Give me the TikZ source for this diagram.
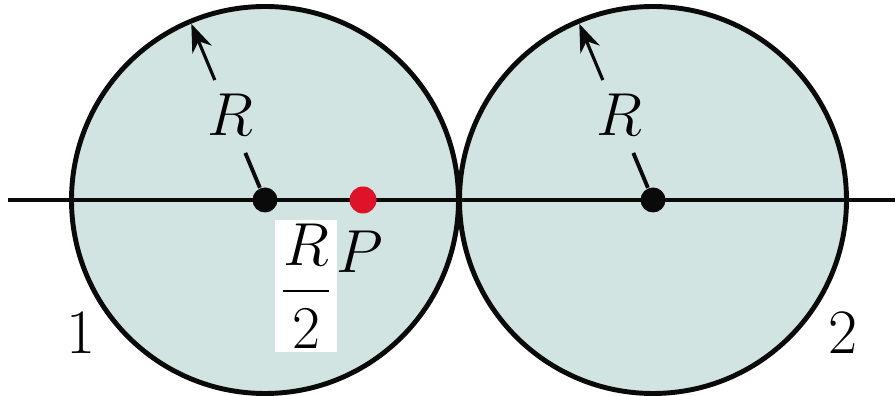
\documentclass[tikz,border=0pt]{standalone}
\usepackage{amsmath}
\usepackage{tikz}
\usetikzlibrary{arrows.meta, positioning, calc}
\definecolor{myfill}{RGB}{210,228,225}
\definecolor{mydark}{RGB}{10,10,10}
\definecolor{myred}{RGB}{222,18,40}
\tikzset{
  disk/.style={circle, draw=mydark, fill=myfill, line width=1.4pt},
  dot/.style={circle, fill=mydark, inner sep=0pt, minimum size=0.25cm},
  reddot/.style={circle, fill=myred, inner sep=0pt, minimum size=0.27cm},
  lbl/.style={font=\fontsize{18}{21}\selectfont, inner sep=1pt},
  arrow/.style={-{Stealth[length=2.8mm, width=2.1mm]}, line width=0.9pt, color=mydark},
  line/.style={line width=1.1pt, color=mydark}
}
\begin{document}
\begin{tikzpicture}
  \useasboundingbox (-2.65,-1.96) rectangle (6.30,2.00);

  % Spheres
  \node[disk, minimum size=3.87cm] (s1) at (0,0) {};
  \node[disk, minimum size=3.87cm] (s2) at (3.88,0) {};

  % Axis
  \coordinate (axl) at (-2.57,0);
  \coordinate (axr) at (6.30,0);
  \draw[line] (axl) -- (axr);

  % Centres and point P
  \node[dot] (c1) at (s1.center) {};
  \node[dot] (c2) at (s2.center) {};
  \node[reddot] (p) at (0.98,0) {};

  % Radius of sphere 1
  \coordinate (r1a) at ($(c1)+(112.7:0.51)$);
  \coordinate (r1b) at ($(c1)+(112.7:1.30)$);
  \coordinate (r1c) at ($(c1)+(112.7:1.91)$);
  \draw[line] (c1) -- (r1a);
  \draw[arrow] (r1b) -- (r1c);
  \node[lbl] (rlab1) at (-0.35,0.85) {$R$};

  % Radius of sphere 2
  \coordinate (r2a) at ($(c2)+(112.7:0.51)$);
  \coordinate (r2b) at ($(c2)+(112.7:1.30)$);
  \coordinate (r2c) at ($(c2)+(112.7:1.91)$);
  \draw[line] (c2) -- (r2a);
  \draw[arrow] (r2b) -- (r2c);
  \node[lbl] (rlab2) at (3.54,0.85) {$R$};

  % Labels
  \node[lbl] (plab) at (0.95,-0.52) {$P$};
  \node[lbl, fill=white] (half) at (0.41,-0.86) {$\dfrac{R}{2}$};
  \node[lbl] (n1) at (-1.84,-1.33) {1};
  \node[lbl] (n2) at (5.78,-1.33) {2};
\end{tikzpicture}
\end{document}
